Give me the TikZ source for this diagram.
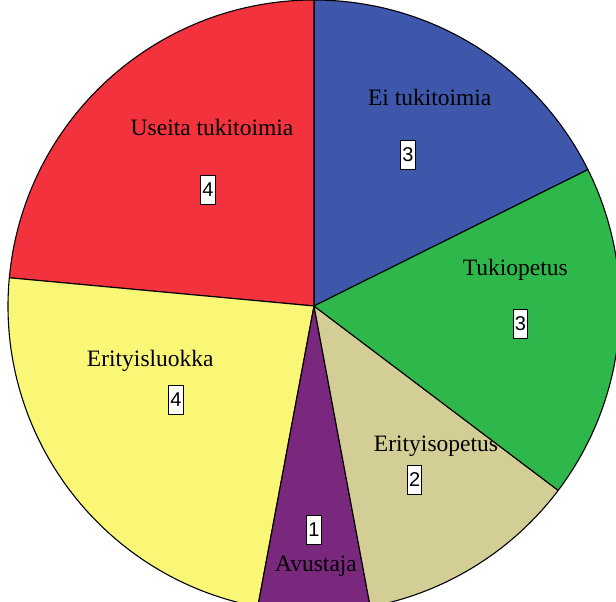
\documentclass[tikz,border=0pt]{standalone}
\usepackage{fontspec}
\setmainfont{Liberation Serif}
\newfontfamily\numfont{Liberation Sans}
\definecolor{eiblue}{RGB}{62,87,170}
\definecolor{useitared}{RGB}{242,50,60}
\definecolor{tukigreen}{RGB}{46,184,75}
\definecolor{opetustan}{RGB}{211,206,150}
\definecolor{avustajapurple}{RGB}{122,40,125}
\definecolor{luokkayellow}{RGB}{250,246,118}

\begin{document}
\begin{tikzpicture}[x=1pt, y=1pt,
  slice/.style={draw=black, line width=1.1pt, line join=round},
  slicetext/.style={anchor=base, inner sep=0pt, font=\fontsize{23.5}{28}\selectfont},
  countbox/.style={draw=black, fill=white, line width=0.9pt, inner xsep=1.5pt, inner ysep=0pt,
    minimum height=29, font=\numfont\fontsize{20}{24}\selectfont}]
\useasboundingbox (0,0) rectangle (616,602);
\coordinate (c) at (314,296);
% Ei tukitoimia
\filldraw[slice, fill=eiblue] (c) -- ++(90:306) arc(90:26.47:306) -- cycle;
\node[slicetext] (ei) at (429.7,496) {Ei tukitoimia};
\node[countbox] (einum) at (408,447.5) {3};
% Useita tukitoimia
\filldraw[slice, fill=useitared] (c) -- ++(174.71:306) arc(174.71:90:306) -- cycle;
\node[slicetext] (useita) at (212,466) {Useita tukitoimia};
\node[countbox] (useitanum) at (208,412) {4};
% Erityisluokka
\filldraw[slice, fill=luokkayellow] (c) -- ++(259.41:306) arc(259.41:174.71:306) -- cycle;
\node[slicetext] (luokka) at (150.3,235) {Erityisluokka};
\node[countbox] (luokkanum) at (176,202) {4};
% Avustaja
\filldraw[slice, fill=avustajapurple] (c) -- ++(280.59:306) arc(280.59:259.41:306) -- cycle;
\node[slicetext] (avustaja) at (316,30.3) {Avustaja};
\node[countbox] (avustajanum) at (314,72) {1};
% Erityisopetus
\filldraw[slice, fill=opetustan] (c) -- ++(322.94:306) arc(322.94:280.59:306) -- cycle;
\node[slicetext] (opetus) at (436,150.3) {Erityisopetus};
\node[countbox] (opetusnum) at (414.7,122.5) {2};
% Tukiopetus
\filldraw[slice, fill=tukigreen] (c) -- ++(26.47:306) arc(26.47:-37.06:306) -- cycle;
\node[slicetext] (tuki) at (515.3,326) {Tukiopetus};
\node[countbox] (tukinum) at (520.5,278.3) {3};
\end{tikzpicture}
\end{document}
